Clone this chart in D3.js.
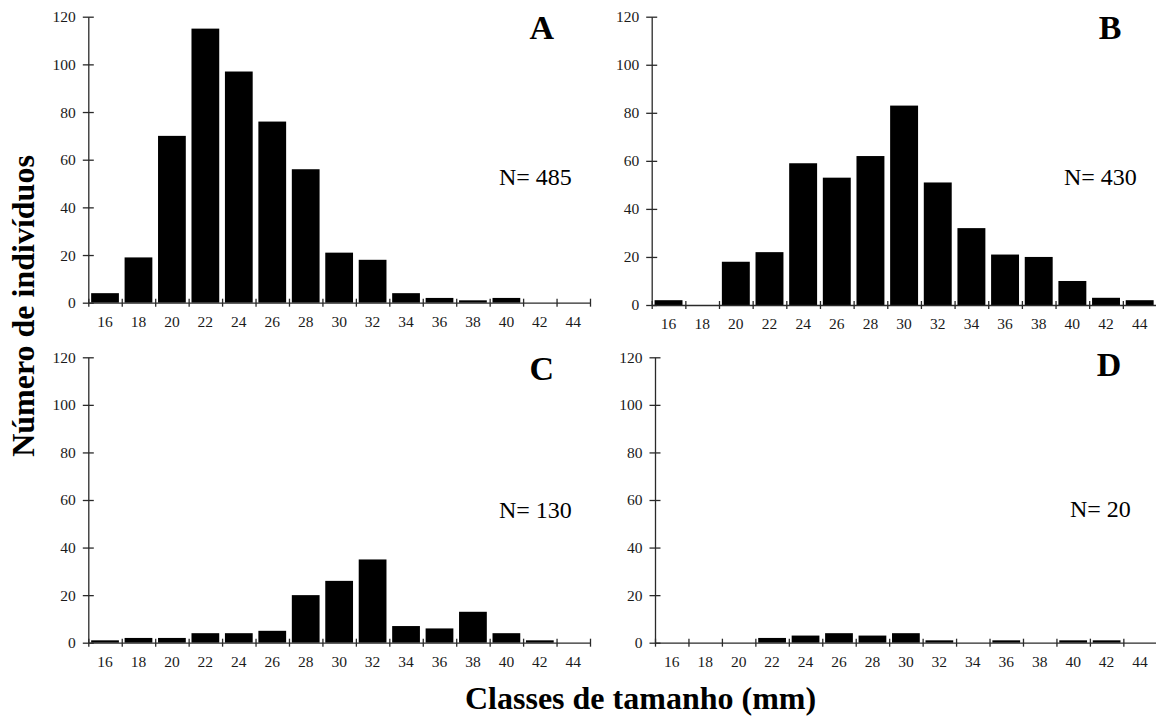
<!DOCTYPE html>
<html>
<head>
<meta charset="utf-8">
<script src="https://cdn.jsdelivr.net/npm/d3@7"></script>
<style>
  html, body { margin: 0; padding: 0; background: #fff; }
  svg { display: block; }
  text { font-family: "Liberation Serif", "Times New Roman", serif; }
</style>
</head>
<body>
<svg id="chart" width="1156" height="718"></svg>
<script>
// ---- data ----
const categories = ["16","18","20","22","24","26","28","30","32","34","36","38","40","42","44"];
const valuesA = [4, 19, 70, 115, 97, 76, 56, 21, 18, 4, 2, 1, 2, 0, 0];
const valuesB = [2, 0, 18, 22, 59, 53, 62, 83, 51, 32, 21, 20, 10, 3, 2];
const valuesC = [1, 2, 2, 4, 4, 5, 20, 26, 35, 7, 6, 13, 4, 1, 0];
const valuesD = [0, 0, 0, 2, 3, 4, 3, 4, 1, 0, 1, 0, 1, 1, 0];
const yTicks = [0, 20, 40, 60, 80, 100, 120];
const panelLetters = ["A", "B", "C", "D"];
const nLabels = ["N= 485", "N= 430", "N= 130", "N= 20"];
const yTitle = "Número de indivíduos";
const xTitle = "Classes de tamanho (mm)";

// ---- layout ----
const panels = [
  { values: valuesA, x0: 88.3, x1: 590,    yBase: 302.7, yTop: 16.7,  lx: 541.7, ly: 39,  nx: 499,  ny: 184.5 },
  { values: valuesB, x0: 651.7, x1: 1156.5, yBase: 305,  yTop: 16.7,  lx: 1110,  ly: 39,  nx: 1064, ny: 185 },
  { values: valuesC, x0: 88.3, x1: 590,    yBase: 642.7, yTop: 357.3, lx: 541.7, ly: 380, nx: 499,  ny: 517.7 },
  { values: valuesD, x0: 655,  x1: 1156.8, yBase: 642.7, yTop: 357.3, lx: 1109,  ly: 376, nx: 1070, ny: 516.7 }
];

const svg = d3.select("#chart");
const axisColor = "#2a2a2a";
const textColor = "#1a1a1a";
const serif = '"Liberation Serif", "Times New Roman", serif';

panels.forEach((p, i) => {
  const g = svg.append("g");
  const x = d3.scaleBand().domain(categories).range([p.x0, p.x1])
    .paddingInner(0.17).paddingOuter(0.085);
  const xb = d3.scaleLinear().domain([0, categories.length]).range([p.x0, p.x1]);
  const y = d3.scaleLinear().domain([0, 120]).range([p.yBase, p.yTop]);

  // bars
  g.append("g").selectAll("rect")
    .data(p.values.map((v, k) => ({ c: categories[k], v })))
    .join("rect")
    .attr("x", d => x(d.c))
    .attr("width", x.bandwidth())
    .attr("y", d => y(d.v))
    .attr("height", d => y(0) - y(d.v))
    .attr("fill", "#000");

  // x boundary ticks + axis line
  const xAxisG = g.append("g").attr("transform", `translate(0,${p.yBase})`)
    .call(d3.axisBottom(xb).tickValues(d3.range(categories.length + 1))
      .tickFormat("").tickSizeInner(4).tickSizeOuter(0));
  xAxisG.selectAll(".tick line").attr("y1", -4).attr("stroke", axisColor).attr("stroke-width", 1.3);
  xAxisG.select(".domain").attr("stroke", axisColor).attr("stroke-width", 1.3);

  // x labels at band centres
  const xLab = g.append("g").attr("transform", `translate(0,${p.yBase})`)
    .call(d3.axisBottom(x).tickSize(0).tickPadding(13));
  xLab.attr("font-family", serif);
  xLab.select(".domain").remove();
  xLab.selectAll("text").attr("font-size", 15.5).attr("fill", textColor)
    .style("font-family", serif);

  // y axis
  const yAxisG = g.append("g").attr("transform", `translate(${p.x0},0)`)
    .call(d3.axisLeft(y).tickValues(yTicks).tickSizeInner(5.5).tickSizeOuter(0).tickPadding(7));
  yAxisG.attr("font-family", serif);
  yAxisG.selectAll(".tick line").attr("x1", 5.5).attr("stroke", axisColor).attr("stroke-width", 1.3);
  yAxisG.select(".domain").attr("stroke", axisColor).attr("stroke-width", 1.3);
  yAxisG.selectAll("text").attr("font-size", 15.5).attr("fill", textColor)
    .style("font-family", serif);

  // panel letter
  g.append("text").attr("x", p.lx).attr("y", p.ly)
    .attr("text-anchor", "middle").attr("font-size", 34).attr("font-weight", "bold")
    .attr("fill", "#000").text(panelLetters[i]);

  // N label
  g.append("text").attr("x", p.nx).attr("y", p.ny)
    .attr("font-size", 24).attr("fill", "#000").text(nLabels[i]);
});

// axis titles
svg.append("text")
  .attr("transform", "translate(34,306) rotate(-90)")
  .attr("text-anchor", "middle").attr("font-size", 32).attr("font-weight", "bold")
  .attr("fill", "#000").text(yTitle);

svg.append("text")
  .attr("x", 465).attr("y", 709)
  .attr("text-anchor", "start").attr("font-size", 32).attr("font-weight", "bold")
  .attr("fill", "#000").text(xTitle);
</script>
</body>
</html>
